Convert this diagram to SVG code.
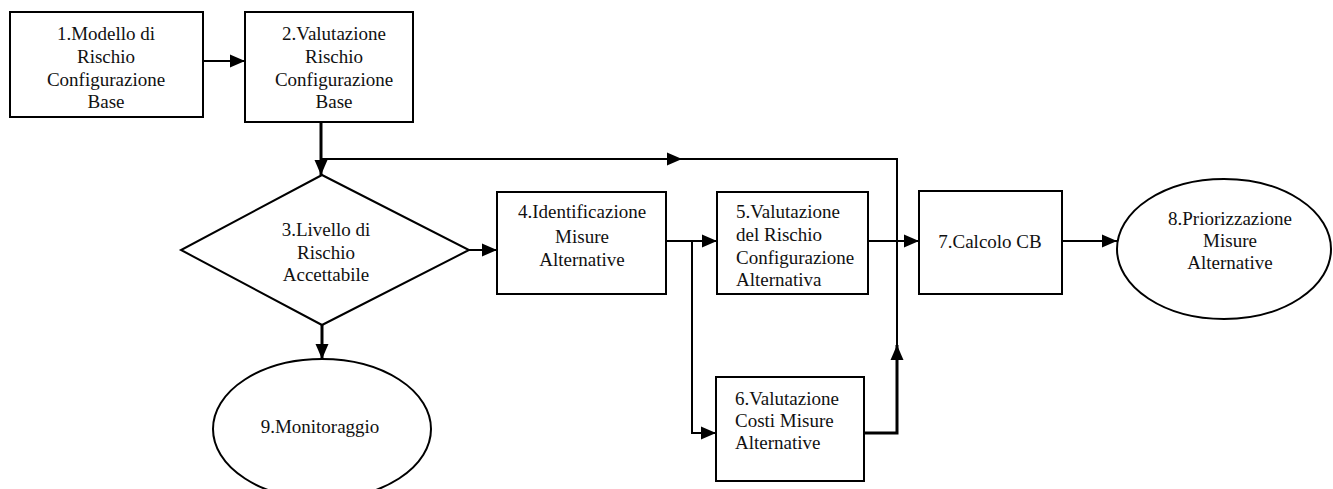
<svg xmlns="http://www.w3.org/2000/svg" width="1333" height="489" viewBox="0 0 1333 489">
<style>
.shape{fill:#fff;stroke:#000;stroke-width:2}
.t{font-family:'Liberation Serif','Times New Roman',serif;font-size:19px;fill:#111}
.c{text-anchor:middle}
.ln{fill:none;stroke:#000;stroke-width:2}
.thk{stroke-width:3}
</style>
<defs>
<marker id="arr" markerUnits="userSpaceOnUse" markerWidth="16" markerHeight="14" refX="15" refY="7" orient="auto">
<path d="M0,0.5 L15,7 L0,13.5 z" fill="#000"/>
</marker>
</defs>
<rect width="1333" height="489" fill="#fff"/>
<g id="connectors">
<path class="ln" d="M203,61 L245,61" marker-end="url(#arr)"/>
<path class="ln thk" d="M321,122 L321,175" marker-end="url(#arr)"/>
<path class="ln" d="M321,159 L682,159" marker-end="url(#arr)"/>
<path class="ln" d="M682,159 L897,159 L897,345"/>
<path class="ln thk" d="M864,433 L897,433 L897,345" marker-end="url(#arr)"/>
<path class="ln" d="M469,250 L497,250" marker-end="url(#arr)"/>
<path class="ln thk" d="M322,325 L322,359" marker-end="url(#arr)"/>
<path class="ln" d="M666,241 L717,241" marker-end="url(#arr)"/>
<path class="ln" d="M692,241 L692,433 L716,433" marker-end="url(#arr)"/>
<path class="ln" d="M868,241 L919,241" marker-end="url(#arr)"/>
<path class="ln" d="M1062,241 L1117,241" marker-end="url(#arr)"/>
</g>
<g id="node1">
<rect class="shape" x="10" y="12" width="193" height="105"/>
<text class="t c" x="106" y="40">1.Modello di</text>
<text class="t c" x="106" y="63">Rischio</text>
<text class="t c" x="106" y="86">Configurazione</text>
<text class="t c" x="106" y="108">Base</text>
</g>
<g id="node2">
<rect class="shape" x="245" y="12" width="168" height="110"/>
<text class="t c" x="334" y="40">2.Valutazione</text>
<text class="t c" x="334" y="63">Rischio</text>
<text class="t c" x="334" y="86">Configurazione</text>
<text class="t c" x="334" y="108">Base</text>
</g>
<g id="node3">
<polygon class="shape" points="322,175 469,250 322,325 181,250"/>
<text class="t c" x="326" y="236">3.Livello di</text>
<text class="t c" x="326" y="259">Rischio</text>
<text class="t c" x="326" y="281">Accettabile</text>
</g>
<g id="node4">
<rect class="shape" x="497" y="192" width="169" height="102"/>
<text class="t c" x="582" y="218">4.Identificazione</text>
<text class="t c" x="582" y="243">Misure</text>
<text class="t c" x="582" y="266">Alternative</text>
</g>
<g id="node5">
<rect class="shape" x="717" y="192" width="151" height="102"/>
<text class="t" x="736" y="218">5.Valutazione</text>
<text class="t" x="736" y="241">del Rischio</text>
<text class="t" x="736" y="264">Configurazione</text>
<text class="t" x="736" y="286">Alternativa</text>
</g>
<g id="node6">
<rect class="shape" x="716" y="377" width="148" height="104"/>
<text class="t" x="735" y="405">6.Valutazione</text>
<text class="t" x="735" y="427">Costi Misure</text>
<text class="t" x="735" y="449">Alternative</text>
</g>
<g id="node7">
<rect class="shape" x="919" y="191" width="143" height="103"/>
<text class="t c" x="990" y="248">7.Calcolo CB</text>
</g>
<g id="node8">
<ellipse class="shape" cx="1224" cy="249" rx="107" ry="70"/>
<text class="t c" x="1230" y="225">8.Priorizzazione</text>
<text class="t c" x="1230" y="247">Misure</text>
<text class="t c" x="1230" y="269">Alternative</text>
</g>
<g id="node9">
<ellipse class="shape" cx="322" cy="429" rx="109" ry="70"/>
<text class="t c" x="320" y="433">9.Monitoraggio</text>
</g>
</svg>
